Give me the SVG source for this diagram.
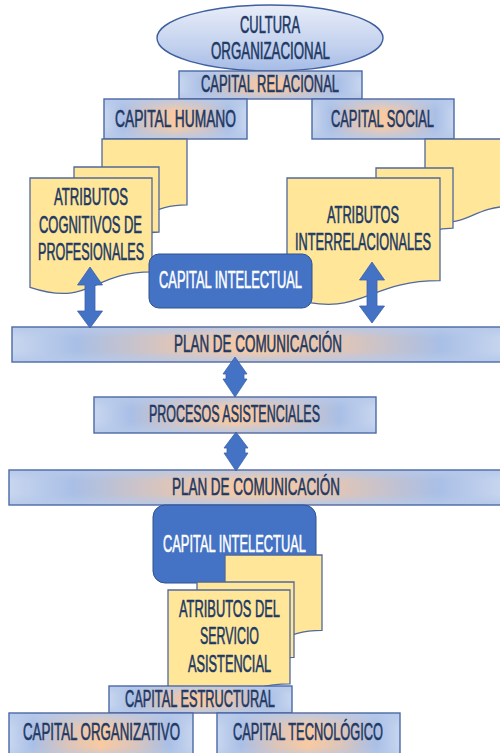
<svg xmlns="http://www.w3.org/2000/svg" width="500" height="753" viewBox="0 0 500 753">
  <style>
    .box { fill: url(#boxFill); stroke: #4a68a6; stroke-width: 1.4; }
    .glow { fill: url(#boxEdge); stroke: none; }
    .doc { fill: #ffe699; stroke: #51699b; stroke-width: 1.3; }
    .intel { fill: #4472c4; stroke: #2f528f; stroke-width: 1; }
    .arrow { fill: #4472c4; stroke: #3a62ad; stroke-width: 0.8; }
    /* condensed lettering: every label is drawn at 60% horizontal scale */
    text { font-family: "Liberation Sans", "DejaVu Sans", sans-serif; font-size: 23px; fill: #203864; stroke: #203864; stroke-width: 0.6; text-anchor: middle; }
    .w { fill: #ffffff; stroke: #ffffff; }
  </style>
  <defs>
    <linearGradient id="boxFill" x1="0" y1="0" x2="1" y2="0">
      <stop offset="0" stop-color="#c8d6ef"/>
      <stop offset="0.13" stop-color="#a9bfe6"/>
      <stop offset="0.32" stop-color="#dcc5bb"/>
      <stop offset="0.5" stop-color="#f9caa1"/>
      <stop offset="0.68" stop-color="#dcc5bb"/>
      <stop offset="0.87" stop-color="#a9bfe6"/>
      <stop offset="1" stop-color="#c8d6ef"/>
    </linearGradient>
    <linearGradient id="boxEdge" x1="0" y1="0" x2="0" y2="1">
      <stop offset="0" stop-color="#b6c9ea" stop-opacity="0.85"/>
      <stop offset="0.3" stop-color="#b6c9ea" stop-opacity="0"/>
      <stop offset="0.7" stop-color="#b6c9ea" stop-opacity="0"/>
      <stop offset="1" stop-color="#b6c9ea" stop-opacity="0.85"/>
    </linearGradient>
    <linearGradient id="ovalFill" x1="0" y1="0" x2="0" y2="1">
      <stop offset="0" stop-color="#e8edf8"/>
      <stop offset="0.6" stop-color="#c4d2ee"/>
      <stop offset="1" stop-color="#a6bce6"/>
    </linearGradient>
  </defs>

  <!-- top tier -->
  <g id="cultura-organizacional">
    <ellipse cx="270" cy="38" rx="113" ry="33" fill="url(#ovalFill)" stroke="#3f5f9e" stroke-width="1.4"/>
    <text transform="scale(0.6,1)" x="450" y="33" textLength="100" lengthAdjust="spacingAndGlyphs" font-size="24">CULTURA</text>
    <text transform="scale(0.6,1)" x="450.8" y="59" textLength="198.3" lengthAdjust="spacingAndGlyphs" font-size="24">ORGANIZACIONAL</text>
  </g>
  <g id="capital-relacional">
    <rect class="box" x="179" y="71" width="183" height="28"/>
    <rect class="glow" x="180" y="72" width="181" height="26"/>
    <text transform="scale(0.6,1)" x="450" y="92" textLength="230" lengthAdjust="spacingAndGlyphs">CAPITAL RELACIONAL</text>
  </g>
  <g id="capital-humano">
    <rect class="box" x="104" y="99" width="143" height="40"/>
    <rect class="glow" x="105" y="100" width="141" height="38"/>
    <text transform="scale(0.6,1)" x="292.5" y="127" textLength="201.7" lengthAdjust="spacingAndGlyphs" font-size="24">CAPITAL HUMANO</text>
  </g>
  <g id="capital-social">
    <rect class="box" x="312" y="99" width="142" height="40"/>
    <rect class="glow" x="313" y="100" width="140" height="38"/>
    <text transform="scale(0.6,1)" x="637.5" y="127" textLength="171.7" lengthAdjust="spacingAndGlyphs" font-size="24">CAPITAL SOCIAL</text>
  </g>

  <!-- stacked attribute documents, left -->
  <g id="atributos-cognitivos">
    <path class="doc" d="M102,139 H187 V204.8 C144.5,204.8 144.5,229.8 102,215.6 Z"/>
    <path class="doc" d="M74,167 H159 V232 C116.5,232 116.5,256.7 74,242.7 Z"/>
    <path class="doc" d="M30,178 H152 V271.8 C91,271.8 91,307.5 30,287.3 Z"/>
    <text transform="scale(0.6,1)" x="151.7" y="205" textLength="123.3" lengthAdjust="spacingAndGlyphs" font-size="22">ATRIBUTOS</text>
    <text transform="scale(0.6,1)" x="150.8" y="233" textLength="171.7" lengthAdjust="spacingAndGlyphs" font-size="22">COGNITIVOS DE</text>
    <text transform="scale(0.6,1)" x="151.7" y="260" textLength="176.7" lengthAdjust="spacingAndGlyphs" font-size="22">PROFESIONALES</text>
  </g>

  <!-- stacked attribute documents, right -->
  <g id="atributos-interrelacionales">
    <path class="doc" d="M425,139 H511 V206.4 C468,206.4 468,232 425,217.5 Z"/>
    <path class="doc" d="M376,168 H453 V228.2 C414.5,228.2 414.5,251 376,238 Z"/>
    <path class="doc" d="M287,178 H440 V280.7 C363.5,280.7 363.5,319.7 287,297.6 Z"/>
    <text transform="scale(0.6,1)" x="605" y="223" textLength="120" lengthAdjust="spacingAndGlyphs">ATRIBUTOS</text>
    <text transform="scale(0.6,1)" x="605" y="250" textLength="226.7" lengthAdjust="spacingAndGlyphs">INTERRELACIONALES</text>
  </g>

  <g id="capital-intelectual-1">
    <rect class="intel" x="149" y="254" width="163" height="54" rx="10"/>
    <text class="w" transform="scale(0.6,1)" x="384.2" y="288" textLength="238.3" lengthAdjust="spacingAndGlyphs" font-size="24">CAPITAL INTELECTUAL</text>
  </g>

  <!-- middle band -->
  <g id="plan-comunicacion-1">
    <rect class="box" x="12" y="327" width="493" height="35"/>
    <rect class="glow" x="13" y="328" width="491" height="33"/>
    <text transform="scale(0.6,1)" x="430" y="352" textLength="280" lengthAdjust="spacingAndGlyphs" font-size="22">PLAN DE COMUNICACIÓN</text>
  </g>
  <g id="procesos-asistenciales">
    <rect class="box" x="94" y="397" width="282" height="36"/>
    <rect class="glow" x="95" y="398" width="280" height="34"/>
    <text transform="scale(0.6,1)" x="390.8" y="422" textLength="285" lengthAdjust="spacingAndGlyphs">PROCESOS ASISTENCIALES</text>
  </g>
  <g id="plan-comunicacion-2">
    <rect class="box" x="9" y="470" width="494" height="35"/>
    <rect class="glow" x="10" y="471" width="492" height="33"/>
    <text transform="scale(0.6,1)" x="426.7" y="495" textLength="280" lengthAdjust="spacingAndGlyphs" font-size="22">PLAN DE COMUNICACIÓN</text>
  </g>

  <!-- lower tier -->
  <g id="capital-intelectual-2">
    <rect class="intel" x="153" y="505" width="163" height="78" rx="12"/>
    <text class="w" transform="scale(0.6,1)" x="390.8" y="552" textLength="238.3" lengthAdjust="spacingAndGlyphs" font-size="24">CAPITAL INTELECTUAL</text>
  </g>
  <g id="atributos-servicio">
    <path class="doc" d="M225,555 H322 V630.4 C273.5,630.4 273.5,659 225,642.8 Z"/>
    <path class="doc" d="M197,582 H294 V657.4 C245.5,657.4 245.5,686 197,669.8 Z"/>
    <path class="doc" d="M168,590 H290 V683.8 C229,683.8 229,719.5 168,699.3 Z"/>
    <text transform="scale(0.6,1)" x="382.5" y="617" textLength="168.3" lengthAdjust="spacingAndGlyphs">ATRIBUTOS DEL</text>
    <text transform="scale(0.6,1)" x="382.5" y="644" textLength="98.3" lengthAdjust="spacingAndGlyphs">SERVICIO</text>
    <text transform="scale(0.6,1)" x="382.5" y="672" textLength="138.3" lengthAdjust="spacingAndGlyphs">ASISTENCIAL</text>
  </g>
  <g id="capital-estructural">
    <rect class="box" x="109" y="686" width="183" height="27"/>
    <rect class="glow" x="110" y="687" width="181" height="25"/>
    <text transform="scale(0.6,1)" x="333.3" y="707" textLength="250" lengthAdjust="spacingAndGlyphs">CAPITAL ESTRUCTURAL</text>
  </g>
  <g id="capital-organizativo">
    <rect class="box" x="9" y="713" width="184" height="48"/>
    <rect class="glow" x="10" y="714" width="182" height="46"/>
    <text transform="scale(0.6,1)" x="169.2" y="740" textLength="261.7" lengthAdjust="spacingAndGlyphs" font-size="24">CAPITAL ORGANIZATIVO</text>
  </g>
  <g id="capital-tecnologico">
    <rect class="box" x="217" y="713" width="183" height="48"/>
    <rect class="glow" x="218" y="714" width="181" height="46"/>
    <text transform="scale(0.6,1)" x="513.3" y="740" textLength="250" lengthAdjust="spacingAndGlyphs" font-size="24">CAPITAL TECNOLÓGICO</text>
  </g>

  <!-- two-way connectors -->
  <g id="connectors">
    <path class="arrow" d="M90,267 L102.5,285 L95,285 L95,311 L102.5,311 L90,328 L77.5,311 L85,311 L85,285 L77.5,285 Z"/>
    <path class="arrow" d="M372,262 L384.5,280 L377,280 L377,306 L384.5,306 L372,323 L359.5,306 L367,306 L367,280 L359.5,280 Z"/>
    <path class="arrow" d="M235,357 L247,374 L244,374 L244,379 L247,379 L235,397 L223,379 L226,379 L226,374 L223,374 Z"/>
    <path class="arrow" d="M236,432 L248,448 L245,448 L245,453 L248,453 L236,471 L224,453 L227,453 L227,448 L224,448 Z"/>
  </g>
</svg>
